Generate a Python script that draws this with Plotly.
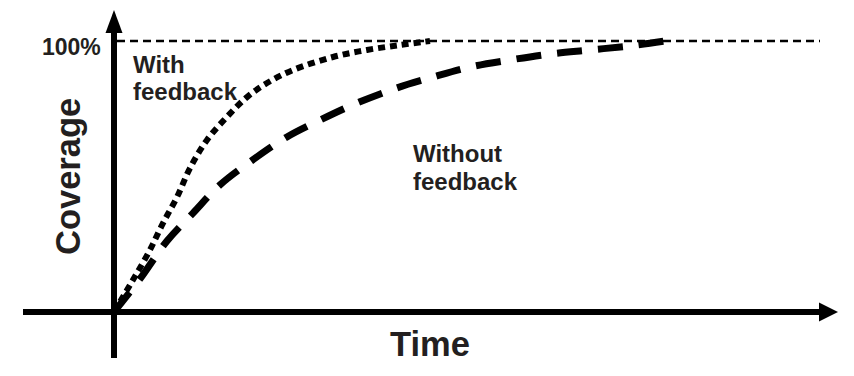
import plotly.graph_objects as go

# ---- data (time in arbitrary units, coverage in %) ----
time_with = [0, 0.186, 0.329, 0.514, 0.70, 0.90, 1.086, 1.329, 1.614, 1.90, 2.186, 2.557, 3.129, 3.614, 4.086, 4.514]
cov_with = [0, 8.1, 14.4, 22.9, 32.8, 42.4, 53.1, 63.5, 72.0, 79.3, 84.5, 89.3, 94.1, 96.7, 98.5, 100]

time_without = [0, 0.371, 0.757, 1.129, 1.514, 1.943, 2.471, 2.943, 3.471, 4.043, 4.557, 5.086, 5.657, 6.229, 6.80, 7.371, 7.871]
cov_without = [0, 12.2, 26.2, 36.5, 46.9, 55.4, 64.6, 70.8, 77.1, 82.7, 86.7, 90.4, 93.0, 95.2, 96.7, 98.2, 100]

full_coverage = 100
labels = {"with": ["With", "feedback"], "without": ["Without", "feedback"]}

# ---- layout geometry ----
W, H = 854, 376
OX, OY = 114, 312        # origin in pixels
XS, YS = 70.0, 2.71      # pixels per unit
def tx(px): return (px - OX) / XS
def cy(py): return (OY - py) / YS
def px_(px): return px / W
def py_(py): return 1 - py / H

INK = "#000000"
TXT = "#231f20"
FONT = "Liberation Sans, Arial, sans-serif"

fig = go.Figure()
fig.add_trace(go.Scatter(x=time_without, y=cov_without, mode="lines",
                         line=dict(color=INK, width=7, dash="25px,16px", shape="spline"),
                         hoverinfo="skip", showlegend=False))
fig.add_trace(go.Scatter(x=time_with, y=cov_with, mode="lines",
                         line=dict(color=INK, width=6, dash="7px,5px", shape="spline"),
                         hoverinfo="skip", showlegend=False))

shapes = [
    # 100% reference line
    dict(type="line", xref="x", yref="y", x0=tx(117), x1=tx(820), y0=full_coverage, y1=full_coverage,
         line=dict(color=INK, width=2.5, dash="8px,5px")),
    # y axis
    dict(type="line", xref="x", yref="y", x0=0, x1=0, y0=cy(358), y1=cy(28),
         line=dict(color=INK, width=6)),
    dict(type="path", xref="x", yref="y",
         path=f"M {tx(114)},{cy(10)} L {tx(105.5)},{cy(33)} L {tx(122.5)},{cy(33)} Z",
         fillcolor=INK, line=dict(width=0)),
    # x axis
    dict(type="line", xref="x", yref="y", x0=tx(23), x1=tx(824), y0=0, y1=0,
         line=dict(color=INK, width=6)),
    dict(type="path", xref="x", yref="y",
         path=f"M {tx(838)},{cy(312)} L {tx(819)},{cy(302.5)} L {tx(819)},{cy(321.5)} Z",
         fillcolor=INK, line=dict(width=0)),
]

def ann(text, x, y, size, xanchor="center", angle=0):
    return dict(text=f"<b>{text}</b>", x=px_(x), y=py_(y), xref="paper", yref="paper",
                xanchor=xanchor, yanchor="middle", showarrow=False, textangle=angle,
                font=dict(family=FONT, size=size, color=TXT))

annotations = [
    ann("100%", 103, 47, 23, xanchor="right"),
    ann(labels["with"][0], 131, 64, 24, xanchor="left"),
    ann(labels["with"][1], 131, 92, 24, xanchor="left"),
    ann(labels["without"][0], 411, 153, 24, xanchor="left"),
    ann(labels["without"][1], 411, 181, 24, xanchor="left"),
    ann("Coverage", 68, 177, 34.5, angle=-90),
    ann("Time", 430, 344, 34.5),
]

fig.update_layout(
    width=W, height=H, margin=dict(l=0, r=0, t=0, b=0),
    paper_bgcolor="white", plot_bgcolor="white",
    xaxis=dict(visible=False, range=[tx(0), tx(W)], fixedrange=True),
    yaxis=dict(visible=False, range=[cy(H), cy(0)], fixedrange=True),
    shapes=shapes, annotations=annotations, showlegend=False,
)
fig.write_html("out.html", config={"displayModeBar": False},
               post_script="document.body.style.margin='0';document.body.style.overflow='hidden';")
